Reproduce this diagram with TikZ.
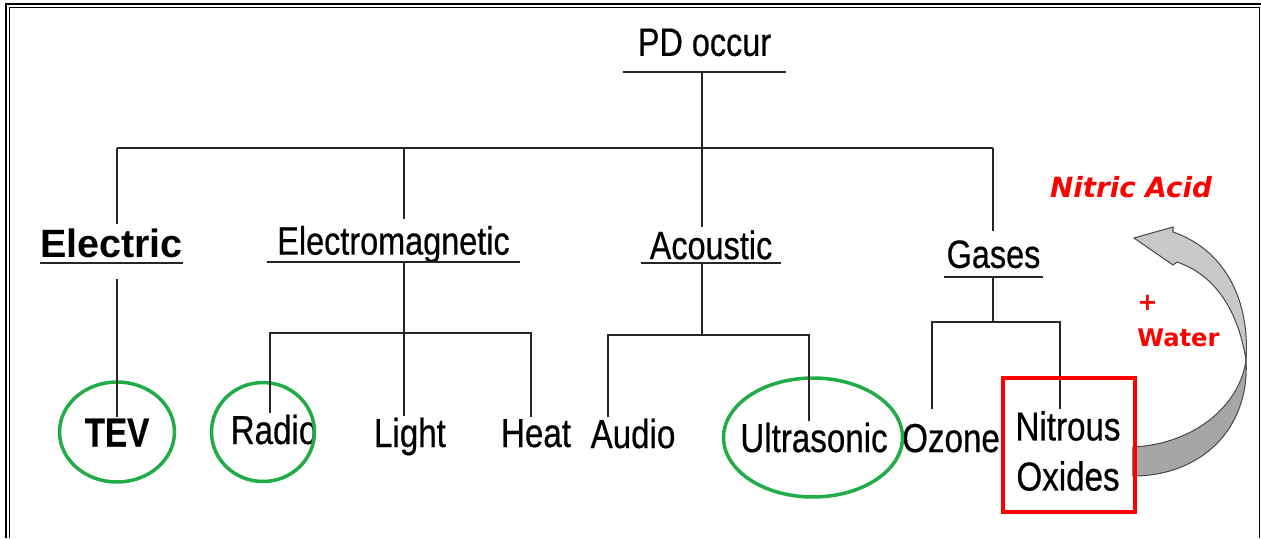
\documentclass[tikz,border=0pt]{standalone}
\usepackage{fontspec}
\setmainfont{Liberation Sans}
\newfontfamily\narrowfont[FakeStretch=0.82,FakeBold=0.5]{Liberation Sans}
\newfontfamily\calloutfont{DejaVu Sans}
\usetikzlibrary{shapes.geometric}
\definecolor{ringgreen}{RGB}{34,172,72}
\definecolor{boxred}{RGB}{255,0,0}
\definecolor{arrowdark}{RGB}{166,166,166}
\definecolor{arrowlight}{RGB}{200,200,200}

\begin{document}
\begin{tikzpicture}[x=0.02cm,y=-0.02cm,
  cat/.style={font=\narrowfont\fontsize{22.5}{26}\selectfont,anchor=south,text depth=0pt,inner xsep=0pt,inner ysep=4pt},
  leaf/.style={font=\narrowfont\fontsize{23}{28.5}\selectfont,anchor=base,inner sep=1pt},
  ring/.style 2 args={ellipse,draw=ringgreen,line width=2pt,minimum width=#1,minimum height=#2,inner sep=0pt},
  link/.style={draw=black!85,line width=1.25pt},
  bar/.style={draw=black!85,line width=1.5pt},
  note/.style={font=\calloutfont\bfseries\fontsize{13.8}{20}\selectfont,text=boxred,inner sep=0pt}]

\useasboundingbox (0,0) rectangle (1261,538);
% frame
\draw[line width=1.7pt] (6,538) -- (6,4) -- (1261,4);
\draw[line width=0.7pt] (9.5,538) -- (9.5,7.5) -- (1259.5,7.5) -- (1259.5,538);

% headings
\node[cat,inner ysep=9pt,minimum width=3.26cm] (pd) at (704.5,72) {PD occur};
\node[cat,font=\fontsize{22.5}{26}\selectfont\bfseries,inner ysep=2.8pt,minimum width=2.86cm] (elec) at (111.5,263) {Electric};
\node[cat,minimum width=5.06cm] (emag) at (393.5,262) {Electromagnetic};
\node[cat,inner ysep=2pt,minimum width=2.8cm] (acou) at (711,263) {Acoustic};
\node[cat,inner ysep=5pt,minimum width=1.98cm] (gas) at (993.5,277) {Gases};
\foreach \n in {pd,elec,emag,acou,gas}
  \draw[bar] (\n.south west) -- (\n.south east);

% leaves
\node[leaf,font=\narrowfont\bfseries\fontsize{23}{28}\selectfont] (tev) at (117,446.5) {TEV};
\node[leaf] (radio) at (274,444) {Radio};
\node[leaf] (light) at (410,447) {Light};
\node[leaf] (heat) at (536,447) {Heat};
\node[leaf] (audio) at (633,448) {Audio};
\node[leaf] (ultra) at (814,452) {Ultrasonic};
\node[leaf] (ozone) at (951,452) {Ozone};
\node[leaf,anchor=center,align=center] (nox) at (1068,451) {Nitrous\\Oxides};

\node[ring={2.3cm}{2cm}] (tevring) at (117,432) {};
\node[ring={2.06cm}{1.98cm}] (radioring) at (263,432) {};
\node[ring={3.58cm}{2.38cm}] (ultraring) at (813,437.5) {};

% junctions
\coordinate (jE) at (117,148);
\coordinate (jM) at (404,148);
\coordinate (jA) at (702,148);
\coordinate (jG) at (993,148);
\coordinate (eT) at (117,279);
\coordinate (mR) at (270,333);
\coordinate (mH) at (531,333);
\coordinate (aA) at (608,335);
\coordinate (aU) at (809,335);
\coordinate (gO) at (932,322);
\coordinate (gN) at (1060,322);

\draw[link] (jE) -- (jG);
\draw[link] (jA |- pd.south) -- (jA);
\draw[link] (jE) -- (jE |- elec.north);
\draw[link] (jM) -- (jM |- emag.north);
\draw[link] (jA) -- (jA |- acou.north);
\draw[link] (jG) -- (jG |- gas.north);

\draw[link] (eT) -- (eT |- tev.north);
\draw[link] (jM |- emag.south) -- (jM |- light.north);
\draw[link] (mR |- radio.north) -- (mR) -- (mH) -- (mH |- heat.north);
\draw[link] (jA |- acou.south) -- (jA |- aA);
\draw[link] (aA |- audio.north) -- (aA) -- (aU) -- (aU |- ultra.north);
\draw[link] (jG |- gas.south) -- (jG |- gO);
\draw[link] (gO |- nox.north) -- (gO) -- (gN) -- (gN |- nox.north);

% curved arrow
\filldraw[fill=arrowdark,draw=black!70,line width=0.6pt]
  (1133,447) .. controls (1195,444) and (1240,405) .. (1246,360)
  .. controls (1250,430) and (1200,476) .. (1133,476) -- cycle;
\filldraw[fill=arrowlight,draw=black!70,line width=0.6pt]
  (1173,232) .. controls (1225,250) and (1250,300) .. (1246,360)
  .. controls (1238,310) and (1215,275) .. (1177,262)
  -- (1173,265) -- (1134,238) -- (1173,227) -- cycle;

\node[draw=boxred,line width=2pt,minimum width=2.64cm,minimum height=2.68cm] (noxbox) at (1069,445) {};

\node[note,font=\calloutfont\bfseries\itshape\fontsize{15.8}{18}\selectfont] (acid) at (1131,187) {Nitric Acid};
\node[note,align=left,anchor=west] (water) at (1137,321) {+\\Water};
\end{tikzpicture}
\end{document}
